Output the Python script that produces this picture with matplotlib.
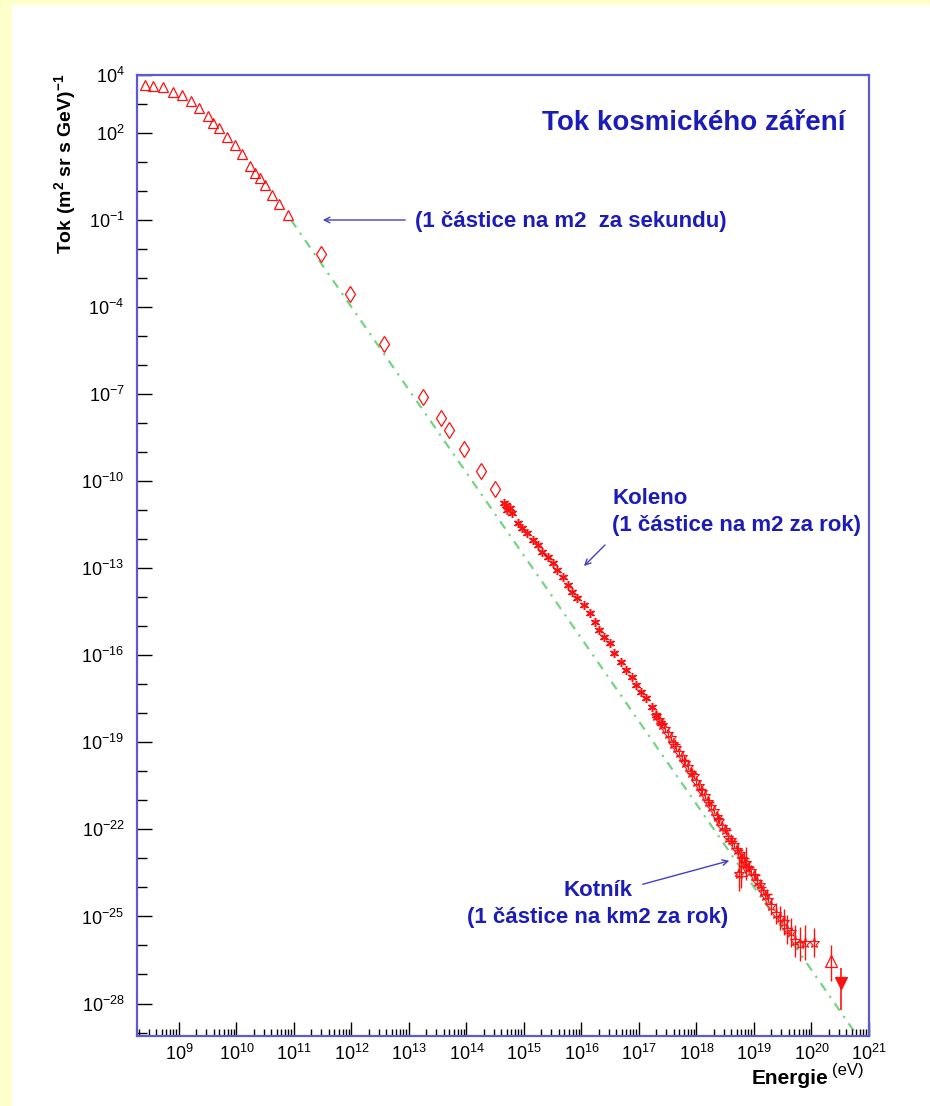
import matplotlib
matplotlib.use('Agg')
import matplotlib.pyplot as plt
import numpy as np
from matplotlib.ticker import FixedLocator, NullFormatter, FuncFormatter
from matplotlib.patches import Rectangle

plt.rcParams['font.family'] = ['Liberation Sans', 'DejaVu Sans']
plt.rcParams['mathtext.fontset'] = 'custom'
plt.rcParams['mathtext.rm'] = 'Liberation Sans'
plt.rcParams['mathtext.bf'] = 'Liberation Sans:bold'
plt.rcParams['mathtext.it'] = 'Liberation Sans:italic'

# ---------------- data: log10(E / eV), log10(flux) ----------------
tri_logE = [8.41, 8.55, 8.72, 8.90, 9.05, 9.21, 9.35, 9.50, 9.59, 9.69,
            9.83, 9.97, 10.09, 10.23, 10.32, 10.41, 10.49, 10.61, 10.74, 10.89]
tri_logF = [3.66, 3.62, 3.59, 3.41, 3.31, 3.10, 2.86, 2.59, 2.34, 2.17,
            1.86, 1.59, 1.28, 0.86, 0.62, 0.45, 0.21, -0.14, -0.45, -0.83]

dia_logE = [11.47, 11.97, 12.56, 13.24, 13.55, 13.69, 13.95, 14.26, 14.49]
dia_logF = [-2.17, -3.55, -5.28, -7.10, -7.83, -8.24, -8.90, -9.66, -10.28]

ast_logE = [14.66, 14.68, 14.71, 14.75, 14.80, 14.89, 14.97, 15.06, 15.15, 15.24,
            15.32, 15.41, 15.50, 15.58, 15.67, 15.76, 15.84, 15.93, 16.05, 16.14,
            16.23, 16.31, 16.40, 16.49, 16.57, 16.69, 16.78, 16.87, 16.95, 17.04,
            17.13, 17.22, 17.30, 17.39]
ast_logF = [-10.76, -10.83, -11.00, -10.93, -11.10, -11.45, -11.62, -11.79, -12.03, -12.21,
            -12.45, -12.62, -12.83, -13.07, -13.31, -13.59, -13.83, -14.03, -14.28, -14.55,
            -14.86, -15.14, -15.38, -15.59, -15.93, -16.24, -16.52, -16.76, -17.03, -17.28,
            -17.48, -17.79, -18.07, -18.34]

star_logE = [17.30, 17.35, 17.40, 17.45, 17.50, 17.55, 17.60, 17.65, 17.70, 17.75,
             17.80, 17.85, 17.90, 17.95, 18.00, 18.05, 18.10, 18.15, 18.20, 18.25,
             18.30, 18.35, 18.40, 18.45, 18.50, 18.55, 18.60, 18.65, 18.70, 18.75,
             18.80, 18.85, 18.90, 18.95, 19.00, 19.05, 19.10, 19.15, 19.20, 19.25]
star_logF = [-18.08, -18.22, -18.40, -18.55, -18.72, -18.86, -19.05, -19.20, -19.38, -19.52,
             -19.70, -19.84, -20.04, -20.16, -20.38, -20.50, -20.72, -20.86, -21.04, -21.22,
             -21.36, -21.57, -21.70, -21.92, -22.03, -22.28, -22.36, -22.55, -22.70, -22.85,
             -23.02, -23.15, -23.32, -23.45, -23.62, -23.80, -23.92, -24.15, -24.30, -24.42]

cross_logE = [17.62, 17.78, 17.92, 18.08, 18.22, 18.38, 18.52, 18.62, 18.72, 18.82,
              18.92, 19.02, 19.12, 19.22]
cross_logF = [-19.05, -19.60, -20.05, -20.62, -21.05, -21.60, -22.02, -22.40, -22.70, -22.98,
              -23.30, -23.58, -23.98, -24.22]

hi_logE = [18.74, 18.86, 19.30, 19.38, 19.45, 19.52, 19.58, 19.65, 19.72, 19.80, 19.88, 20.05]
hi_logF = [-23.52, -23.17, -24.65, -24.90, -25.05, -25.20, -25.45, -25.55, -25.85, -25.95, -25.90, -25.90]
hi_err = [0.60, 0.57, 0.30, 0.35, 0.40, 0.45, 0.50, 0.50, 0.55, 0.60, 0.60, 0.50]

otri_logE = [18.78, 20.34]
otri_logF = [-23.41, -26.52]
otri_err_lo = [0.60, 0.69]
otri_err_hi = [0.60, 0.52]

ftri_logE = [20.51]
ftri_logF = [-27.28]
ftri_err_lo = [0.96]
ftri_err_hi = [0.49]

fit_logE = [10.95, 20.79]
fit_logF = [-1.00, -29.10]

x_major_exp = list(range(9, 22))
y_major_exp = [4, 2, -1, -4, -7, -10, -13, -16, -19, -22, -25, -28]

# ---------------- figure ----------------
W, H = 930, 1106
fig = plt.figure(figsize=(W / 100, H / 100), dpi=100)
fig.patch.set_facecolor('#FFFFCC')
fig.add_artist(Rectangle((12 / W, 0), 1 - 12 / W, 1 - 5 / H, transform=fig.transFigure,
                         facecolor='white', edgecolor='none', zorder=-10))

def fx(px):
    return px / W

def fy(py):
    return 1 - py / H

def p(v):
    return 10.0 ** np.asarray(v, dtype=float)

L, R, T, B = 137, 869, 75, 1036
ax = fig.add_axes([fx(L), fy(B), (R - L) / W, (B - T) / H])
ax.set_xscale('log')
ax.set_yscale('log')
ax.set_xlim(10.0 ** 8.27, 1e21)
ax.set_ylim(10.0 ** -29.12, 1e4)
ax.set_facecolor('white')

red = '#FF1010'
ax.plot(p(fit_logE), p(fit_logF), color='#74D484', ls=(0, (4, 3, 1, 3)), lw=1.6, zorder=1)

ax.plot(p(tri_logE), p(tri_logF), ls='none', marker='^', mfc='none', mec=red, ms=7, mew=0.9, zorder=3)
ax.plot(p(dia_logE), p(dia_logF), ls='none', marker='d', mfc='none', mec=red, ms=8.5, mew=0.9, zorder=3)
ax.plot(p(ast_logE), p(ast_logF), ls='none', marker=(6, 2, 0), mec=red, ms=6.5, mew=1.1, zorder=3)

sE, sF = p(star_logE), p(star_logF)
ax.errorbar(sE, sF, yerr=[sF - sF / 10 ** 0.08, sF * 10 ** 0.08 - sF], fmt='*', mfc='none',
            mec=red, ecolor=red, ms=8, mew=0.8, elinewidth=0.8, capsize=0, zorder=3)
ax.plot(p(cross_logE), p(cross_logF), ls='none', marker='+', mec=red, ms=7, mew=1.0, zorder=3)

hE, hF, he = p(hi_logE), p(hi_logF), np.asarray(hi_err)
ax.errorbar(hE, hF, yerr=[hF - hF / 10 ** he, hF * 10 ** he - hF], fmt='*', mfc='none',
            mec=red, ecolor=red, ms=8, mew=0.8, elinewidth=1.0, capsize=0, zorder=3)

oE, oF = p(otri_logE), p(otri_logF)
ax.errorbar(oE, oF, yerr=[oF - oF / p(otri_err_lo), oF * p(otri_err_hi) - oF], fmt='^',
            mfc='none', mec=red, ecolor=red, ms=8, mew=0.9, elinewidth=1.0, capsize=0, zorder=3)
fE, fF = p(ftri_logE), p(ftri_logF)
ax.errorbar(fE, fF, yerr=[fF - fF / p(ftri_err_lo), fF * p(ftri_err_hi) - fF], fmt='v',
            mfc=red, mec=red, ecolor=red, ms=8, mew=0.9, elinewidth=1.2, capsize=0, zorder=3)

# ---------------- axes styling ----------------
for sp in ax.spines.values():
    sp.set_color('#5C5CD2')
    sp.set_linewidth(1.6)

ax.xaxis.set_major_locator(FixedLocator(p(x_major_exp)))
xminor = [m * 10.0 ** k for k in range(8, 21) for m in range(2, 10)
          if 10.0 ** 8.27 <= m * 10.0 ** k <= 1e21]
ax.xaxis.set_minor_locator(FixedLocator(xminor))
ax.xaxis.set_minor_formatter(NullFormatter())
ax.xaxis.set_major_formatter(FuncFormatter(lambda v, pos: r'$\mathregular{10^{%d}}$' % round(np.log10(v))))

ax.yaxis.set_major_locator(FixedLocator(p(y_major_exp)))
yminor = [10.0 ** k for k in range(-29, 4) if k not in y_major_exp]
ax.yaxis.set_minor_locator(FixedLocator(yminor))
ax.yaxis.set_minor_formatter(NullFormatter())
ax.yaxis.set_major_formatter(FuncFormatter(lambda v, pos: r'$\mathregular{10^{%d}}$' % round(np.log10(v))))

ax.tick_params(which='both', direction='in', top=False, right=False, color='black', width=1.0)
ax.tick_params(axis='x', which='major', length=10, pad=6, labelsize=13)
ax.tick_params(axis='x', which='minor', length=5)
ax.tick_params(axis='y', which='major', length=11, pad=9, labelsize=13)
ax.tick_params(axis='y', which='minor', length=7)

# ---------------- texts ----------------
blue = '#1C1CB8'
fs = 16
fig.text(fx(845), fy(123), 'Tok kosmického záření', ha='right', va='center',
         fontsize=20, weight='bold', color=blue)
fig.text(fx(415), fy(222), '(1 částice na m2  za sekundu)', ha='left', va='center',
         fontsize=fs, weight='bold', color=blue)
ax.annotate('', xy=(fx(320), fy(220)), xytext=(fx(408), fy(220)),
            xycoords='figure fraction', textcoords='figure fraction',
            arrowprops=dict(arrowstyle='->', color='#4040C8', lw=1.0))

fig.text(fx(612), fy(498), 'Koleno', ha='left', va='center', fontsize=fs, weight='bold', color=blue)
fig.text(fx(612), fy(525), '(1 částice na m2 za rok)', ha='left', va='center',
         fontsize=fs, weight='bold', color=blue)
ax.annotate('', xy=(fx(582), fy(568)), xytext=(fx(607), fy(543)),
            xycoords='figure fraction', textcoords='figure fraction',
            arrowprops=dict(arrowstyle='->', color='#4040C8', lw=1.0))

fig.text(fx(598), fy(890), 'Kotník', ha='center', va='center', fontsize=fs, weight='bold', color=blue)
fig.text(fx(598), fy(918), '(1 částice na km2 za rok)', ha='center', va='center',
         fontsize=fs, weight='bold', color=blue)
ax.annotate('', xy=(fx(732), fy(860)), xytext=(fx(640), fy(885)),
            xycoords='figure fraction', textcoords='figure fraction',
            arrowprops=dict(arrowstyle='->', color='#4040C8', lw=1.0))

fig.text(fx(828), fy(1078), 'Energie', ha='right', va='center', fontsize=15, weight='bold', color='black')
fig.text(fx(832), fy(1071), '(eV)', ha='left', va='center', fontsize=12, color='black')
fig.text(fx(65), fy(73), r'Tok (m$^{\mathbf{2}}$ sr s GeV)$^{\mathbf{-1}}$', rotation=90,
         ha='center', va='top', fontsize=14, weight='bold', color='black')

fig.savefig('out.png', dpi=100, facecolor=fig.get_facecolor())
